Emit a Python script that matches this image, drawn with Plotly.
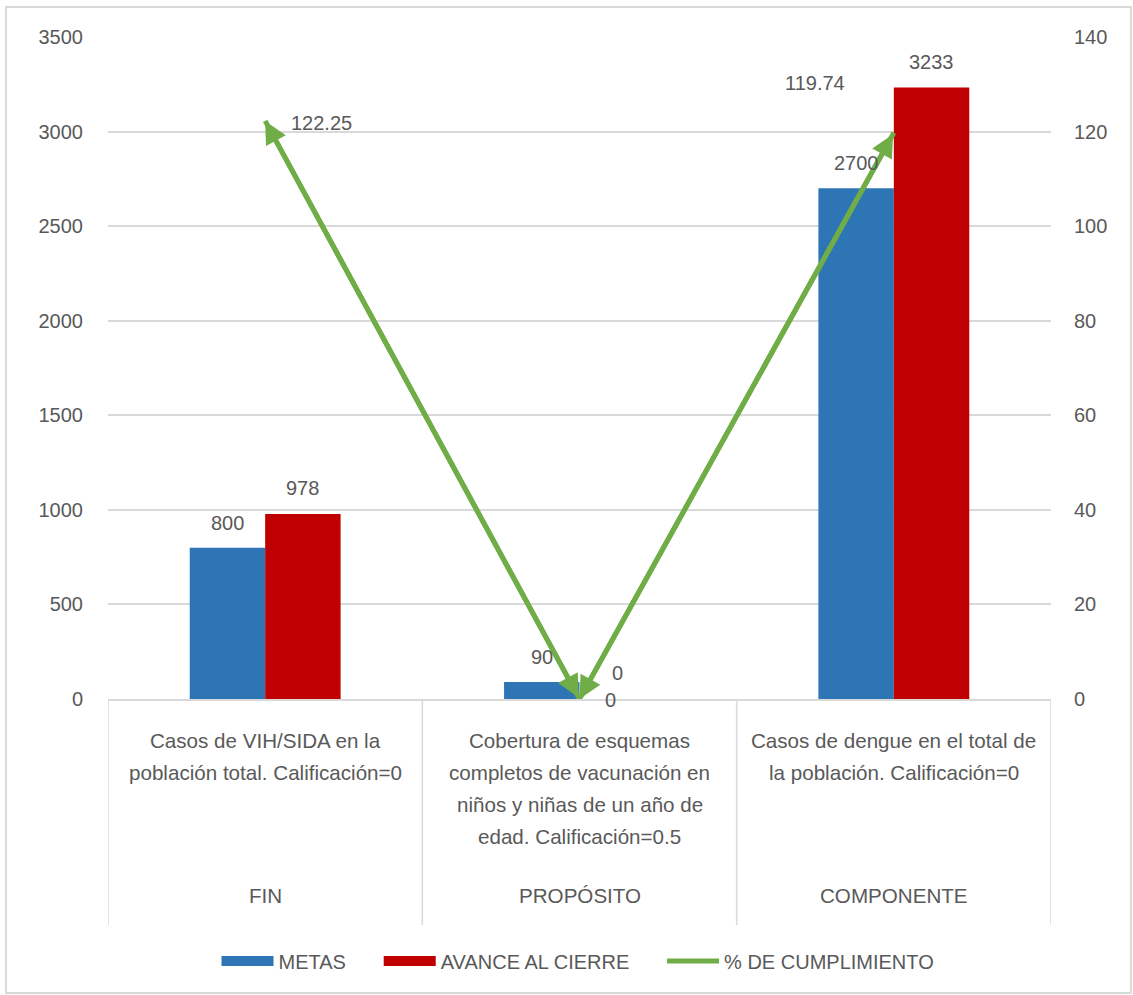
import plotly.graph_objects as go

# ---------------- data ----------------
niveles = ["FIN", "PROPÓSITO", "COMPONENTE"]
indicadores = [
    "Casos de VIH/SIDA en la<br>población total. Calificación=0",
    "Cobertura de esquemas<br>completos de vacunación en<br>niños y niñas de un año de<br>edad. Calificación=0.5",
    "Casos de dengue en el total de<br>la población. Calificación=0",
]
metas = [800, 90, 2700]
avance = [978, 0, 3233]
cumplimiento = [122.25, 0, 119.74]

# ---------------- style ----------------
W, H = 1133, 995
L, R, T, B = 108, 82, 37, 296
PW, PH = W - L - R, H - T - B
FONT = "Liberation Sans, Arial, sans-serif"
TXT = "#595959"
GRID = "#D9D9D9"
BLUE, RED, GREEN = "#2E75B6", "#C00000", "#70AD47"
FS = 20
CFS = 20.6
BARGAP = 0.52
SP = "\u00a0" * 5


def px_x(p):
    return (p - L) / PW


def px_y(p):
    return (H - B - p) / PH


n = len(niveles)
xs = list(range(n))
half = (1 - BARGAP) / 4  # centre offset of each bar in a group of two

fig = go.Figure()
fig.add_trace(go.Bar(x=xs, y=metas, name="METAS", marker_color=BLUE,
                     marker_line_width=0, showlegend=False))
fig.add_trace(go.Bar(x=xs, y=avance, name="AVANCE AL CIERRE", marker_color=RED,
                     marker_line_width=0, showlegend=False))
fig.add_trace(go.Scatter(x=xs, y=cumplimiento, yaxis="y2", mode="lines",
                         name="% DE CUMPLIMIENTO", line=dict(color=GREEN, width=5),
                         showlegend=False, hoverinfo="skip"))

# legend entries
fig.add_trace(go.Scatter(x=[None], y=[None], mode="lines", name="METAS" + SP,
                         line=dict(color=BLUE, width=14)))
fig.add_trace(go.Scatter(x=[None], y=[None], mode="lines", name="AVANCE AL CIERRE" + SP,
                         line=dict(color=RED, width=14)))
fig.add_trace(go.Scatter(x=[None], y=[None], mode="lines", name="% DE CUMPLIMIENTO",
                         line=dict(color=GREEN, width=5), yaxis="y2"))

ann = []
# double-headed arrows on each segment of the line
for i in range(n - 1):
    ann.append(dict(x=xs[i], y=cumplimiento[i], ax=xs[i + 1], ay=cumplimiento[i + 1],
                    xref="x", yref="y2", axref="x", ayref="y2", text="",
                    showarrow=True, arrowhead=2, startarrowhead=2, arrowside="end+start",
                    arrowwidth=5, arrowsize=0.9, startarrowsize=0.9,
                    arrowcolor=GREEN, standoff=0, startstandoff=0))
# bar value labels
for i in xs:
    ann.append(dict(x=i - half, y=metas[i], xref="x", yref="y", text=f"{metas[i]:g}",
                    showarrow=False, yshift=25, font=dict(size=FS, color=TXT, family=FONT)))
    ann.append(dict(x=i + half, y=avance[i], xref="x", yref="y", text=f"{avance[i]:g}",
                    showarrow=False, yshift=26, font=dict(size=FS, color=TXT, family=FONT)))
# line value labels
line_offsets = [(24, -2, "left"), (23, -1, "left"), (-79, 50, "center")]
for i in xs:
    dx, dy, xa = line_offsets[i]
    ann.append(dict(x=i, y=cumplimiento[i], xref="x", yref="y2",
                    text=f"{cumplimiento[i]:g}", showarrow=False,
                    xshift=dx, yshift=dy, xanchor=xa,
                    font=dict(size=FS, color=TXT, family=FONT)))
# category labels (two levels)
for i in xs:
    for k, line in enumerate(indicadores[i].split("<br>")):
        ann.append(dict(x=i, y=px_y(740 + 32 * k), xref="x", yref="paper", text=line,
                        showarrow=False, yanchor="middle",
                        font=dict(size=CFS, color=TXT, family=FONT)))
    ann.append(dict(x=i, y=px_y(895), xref="x", yref="paper", text=niveles[i],
                    showarrow=False, yanchor="middle",
                    font=dict(size=CFS, color=TXT, family=FONT)))

shapes = []
for k in range(n + 1):
    shapes.append(dict(type="line", xref="x", yref="paper", x0=k - 0.5, x1=k - 0.5,
                       y0=0, y1=px_y(925), line=dict(color=GRID, width=1.5)))
shapes.append(dict(type="rect", xref="paper", yref="paper",
                   x0=px_x(6), x1=px_x(1131), y0=px_y(993), y1=px_y(7),
                   line=dict(color=GRID, width=2), layer="below"))

fig.update_layout(
    width=W, height=H,
    margin=dict(l=L, r=R, t=T, b=B),
    paper_bgcolor="white", plot_bgcolor="white",
    font=dict(family=FONT, size=FS, color=TXT),
    barmode="group", bargap=BARGAP, bargroupgap=0,
    xaxis=dict(range=[-0.5, n - 0.5], showticklabels=False, showgrid=False,
               zeroline=False, showline=True, linecolor=GRID, linewidth=1.5, ticks=""),
    yaxis=dict(range=[0, 3500], dtick=500, showgrid=True, gridcolor=GRID, gridwidth=1.5,
               zeroline=False, showline=False, ticks="", ticklabelstandoff=24,
               tickfont=dict(size=FS, color=TXT, family=FONT)),
    yaxis2=dict(range=[0, 140], dtick=20, overlaying="y", side="right", showgrid=False,
                zeroline=False, showline=False, ticks="", ticklabelstandoff=22,
                tickfont=dict(size=FS, color=TXT, family=FONT)),
    legend=dict(orientation="h", x=px_x(578), xanchor="center", y=px_y(961),
                yanchor="middle", itemwidth=52, font=dict(size=FS, color=TXT, family=FONT),
                bgcolor="rgba(0,0,0,0)"),
    annotations=ann, shapes=shapes,
)

fig.write_html("out.html")
